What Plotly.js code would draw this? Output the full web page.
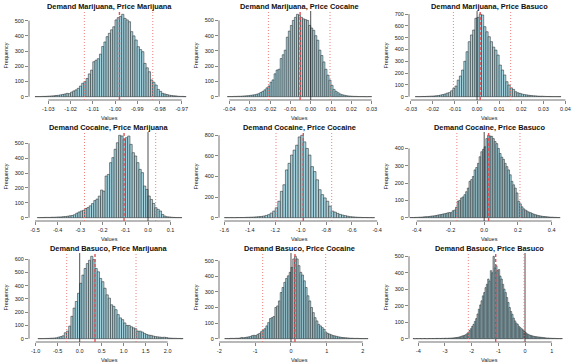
<!DOCTYPE html>
<html>
<head>
<meta charset="utf-8">
<script src="https://cdn.plot.ly/plotly-3.0.1.min.js"></script>
<style>
html, body { margin: 0; padding: 0; background: #fff; }
#chart { width: 571px; height: 364px; }
</style>
</head>
<body>
<div id="chart"></div>
<script>
// panel titles, row by row
var titles = [
  "Demand Marijuana, Price Marijuana", "Demand Marijuana, Price Cocaine", "Demand Marijuana, Price Basuco",
  "Demand Cocaine, Price Marijuana", "Demand Cocaine, Price Cocaine", "Demand Cocaine, Price Basuco",
  "Demand Basuco, Price Marijuana", "Demand Basuco, Price Cocaine", "Demand Basuco, Price Basuco"
];

// histogram bins: left edge of first bin, bin width, counts
var binStart = [-1.036, -0.041, -0.028, -0.49, -1.60, -0.44, -0.95, -1.85, -4.2];
var binWidth = [0.001, 0.001, 0.001, 0.01, 0.02, 0.01, 0.05, 0.05, 0.05];

var counts1 = [1,1,1,2,2,3,4,5,6,8, 9,12,15,18,22,20,30,38,45,55, 70,88,99,120,150,175,230,240,250,280,
  330,360,395,417,440,460,505,520,528,542, 515,505,493,428,400,373,329,310,296,219,
  190,164,110,95,77,48,35,22,18,14, 10,8,6,5,3,2,2,1];
var counts2 = [1,1,1,2,2,3,3,4,5,6, 7,9,11,13,16,20,28,35,45,58, 70,95,110,150,175,180,250,275,305,390,
  430,467,500,520,540,533,520,510,505,500, 467,450,435,400,370,305,270,228,180,141,
  109,75,48,35,26,18,13,10,7,5, 4,3,2,2,1,1,1,1,0,1,1];
var counts3 = [1,1,1,2,2,3,4,5,6,8, 10,14,18,23,30,35,50,70,90,140, 175,226,300,381,466,523,565,664,672,698,
  692,593,550,508,466,420,395,353,268,226, 184,127,99,75,62,42,33,28,22,18,
  15,12,10,8,7,5,4,4,3,2, 2,1,1,1,1,1];
var counts4 = [1,1,1,2,2,2,3,3,4,5, 5,7,8,10,13,15,20,30,38,45, 50,62,68,80,95,115,125,145,186,178,
  280,291,370,404,460,504,554,549,527,538, 549,493,437,415,370,325,303,213,190,146,
  123,96,67,56,45,22,11,6,5,3, 2,1,1,1];
var counts5 = [1,1,1,1,1,2,2,2,3,4, 5,6,8,10,12,16,22,30,45,64, 96,160,256,320,464,528,608,656,704,784,
  800,736,672,608,496,448,368,272,224,192, 160,112,64,54,42,32,25,20,14,10,
  8,6,4,3,2,2,1,1,1];
var counts6 = [1,1,1,2,2,3,3,4,5,6, 6,7,9,10,11,13,15,17,19,21, 23,25,28,30,29,40,44,60,95,100,
  114,120,133,150,171,210,220,238,276,290, 314,352,381,395,410,457,476,472,470,457,
  440,428,400,371,350,337,314,295,276,248, 210,190,171,143,95,80,63,51,44,38,
  32,29,24,20,17,14,12,10,8,7, 6,5,4,3,3,2,2,1,1];
var counts7 = [1,1,1,2,2,3,4,5,7,12, 16,22,45,57,95,169,231,281,343,418, 480,530,567,592,622,597,530,505,455,430,
  381,331,306,256,244,219,182,157,144,119, 100,100,90,82,75,57,57,50,40,32,
  27,25,20,16,14,12,10,11,9,5, 4,3,3,2,2,1];
var counts8 = [1,1,1,2,2,2,3,3,4,8, 6,8,10,12,15,20,22,20,28,34, 45,56,64,82,103,129,135,142,200,210,
  242,296,328,361,386,403,425,457,511,528, 511,468,425,408,371,328,275,242,200,167,
  135,114,92,82,71,60,43,34,30,25, 20,18,15,12,10,8,7,6,5,4,
  3,3,2,2,2,1,1,1,1,1];
var counts9 = [1,0,1,0,1,1,0,1,1,1, 0,1,1,1,1,1,1,2,1,2, 1,2,2,2,3,2,3,3,4,4,
  5,6,7,8,10,12,15,18,20,24, 30,38,50,61,75,87,105,122,150,179,
  205,230,260,280,310,331,362,350,413,400, 500,430,443,413,420,380,362,330,301,280,
  250,220,189,165,148,125,108,95,87,75, 67,60,53,45,37,30,26,22,20,17,
  15,13,12,11,10,9,8,7,6,5, 4,4,3,3,2,2,2,1,1,1, 1,1];

// 95% interval bounds and point estimate for each panel
var lowerCI = [-1.0138, -0.0208, -0.0107, -0.281, -1.194, -0.162, -0.295, -0.79, -2.126];
var estimate = [-0.998, -0.0052, 0.0014, -0.106, -0.98, 0.026, 0.348, 0.111, -1.099];
var upperCI = [-0.983, 0.0095, 0.0152, 0.034, -0.757, 0.212, 1.28, 0.968, -0.038];

// x tick values and labels
var xTicks = [
  [-1.03, -1.02, -1.01, -1.00, -0.99, -0.98, -0.97],
  [-0.04, -0.03, -0.02, -0.01, 0, 0.01, 0.02, 0.03],
  [-0.03, -0.02, -0.01, 0, 0.01, 0.02, 0.03, 0.04],
  [-0.5, -0.4, -0.3, -0.2, -0.1, 0, 0.1],
  [-1.6, -1.4, -1.2, -1.0, -0.8, -0.6, -0.4],
  [-0.4, -0.2, 0, 0.2, 0.4],
  [-1.0, -0.5, 0, 0.5, 1.0, 1.5, 2.0],
  [-2, -1, 0, 1, 2],
  [-4, -3, -2, -1, 0, 1]
];
var xLabels = [
  ["-1.03", "-1.02", "-1.01", "-1.00", "-0.99", "-0.98", "-0.97"],
  ["-0.04", "-0.03", "-0.02", "-0.01", "0.00", "0.01", "0.02", "0.03"],
  ["-0.03", "-0.02", "-0.01", "0.00", "0.01", "0.02", "0.03", "0.04"],
  ["-0.5", "-0.4", "-0.3", "-0.2", "-0.1", "0.0", "0.1"],
  ["-1.6", "-1.4", "-1.2", "-1.0", "-0.8", "-0.6", "-0.4"],
  ["-0.4", "-0.2", "0.0", "0.2", "0.4"],
  ["-1.0", "-0.5", "0.0", "0.5", "1.0", "1.5", "2.0"],
  ["-2", "-1", "0", "1", "2"],
  ["-4", "-3", "-2", "-1", "0", "1"]
];
var yTicks = [
  [0, 100, 200, 300, 400, 500],
  [0, 100, 200, 300, 400, 500],
  [0, 100, 200, 300, 400, 500, 600, 700],
  [0, 100, 200, 300, 400, 500],
  [0, 200, 400, 600, 800],
  [0, 100, 200, 300, 400],
  [0, 100, 200, 300, 400, 500, 600],
  [0, 100, 200, 300, 400, 500],
  [0, 100, 200, 300, 400, 500]
];

var allCounts = [counts1, counts2, counts3, counts4, counts5, counts6, counts7, counts8, counts9];

// plot regions (pixels) and x ranges
var W = 571, H = 364;
var colLeft = [29, 219, 409], rowTop = [11, 132, 253];
var plotW = 160, plotH = 89;
var xRanges = [
  [-1.0387, -0.9667], [-0.0451, 0.0336], [-0.0308, 0.0416],
  [-0.5266, 0.1814], [-1.6416, -0.3857], [-0.4456, 0.5025],
  [-1.152, 2.484], [-2.008, 2.455], [-4.349, 1.648]
];

var axisCol = '#333';
var tickFont = {size: 5.5, color: '#222'};
var data = [], shapes = [], annotations = [];
var layout = {
  width: W, height: H,
  margin: {l: 0, r: 0, t: 0, b: 0},
  showlegend: false,
  bargap: 0,
  paper_bgcolor: '#fff', plot_bgcolor: '#fff',
  font: {family: 'Liberation Sans, Arial, sans-serif', color: '#222'}
};

for (var i = 0; i < 9; i++) {
  var sfx = i === 0 ? '' : String(i + 1);
  var xa = 'x' + sfx, ya = 'y' + sfx;
  var c = allCounts[i];
  var centers = c.map(function (v, k) { return binStart[i] + (k + 0.5) * binWidth[i]; });
  data.push({
    type: 'bar', x: centers, y: c, width: binWidth[i],
    xaxis: xa, yaxis: ya,
    marker: {color: '#a3d4e0', line: {color: '#2b2b2b', width: 0.55}},
    hoverinfo: 'skip'
  });

  var col = i % 3, row = Math.floor(i / 3);
  var L = colLeft[col], T = rowTop[row];
  var M = Math.max.apply(null, c);

  layout['xaxis' + sfx] = {
    domain: [L / W, (L + plotW) / W], range: xRanges[i], anchor: ya,
    tickvals: xTicks[i], ticktext: xLabels[i],
    ticks: 'outside', ticklen: 3, tickwidth: 0.6, tickcolor: axisCol,
    showgrid: false, zeroline: false, showline: false, tickfont: tickFont
  };
  layout['yaxis' + sfx] = {
    domain: [1 - (T + plotH) / H, 1 - T / H], range: [-0.04 * M, 1.04 * M], anchor: xa,
    tickvals: yTicks[i],
    ticks: 'outside', ticklen: 3, tickwidth: 0.6, tickcolor: axisCol,
    showgrid: false, zeroline: false, showline: false, tickfont: tickFont
  };

  // R-style axis lines spanning the tick range only
  var xt = xTicks[i], yt = yTicks[i];
  shapes.push({type: 'line', xref: xa, yref: ya + ' domain', x0: xt[0], x1: xt[xt.length - 1], y0: 0, y1: 0,
    line: {color: axisCol, width: 0.7}});
  shapes.push({type: 'line', xref: xa + ' domain', yref: ya, x0: 0, x1: 0, y0: yt[0], y1: yt[yt.length - 1],
    line: {color: axisCol, width: 0.7}});

  // zero reference line
  if (xRanges[i][0] < 0 && xRanges[i][1] > 0) {
    shapes.push({type: 'line', xref: xa, yref: ya + ' domain', x0: 0, x1: 0, y0: 0, y1: 1,
      line: {color: '#222', width: 0.8}});
  }
  // interval bounds (dotted) and estimate (dashed)
  [lowerCI[i], upperCI[i]].forEach(function (v) {
    shapes.push({type: 'line', xref: xa, yref: ya + ' domain', x0: v, x1: v, y0: 0, y1: 1,
      line: {color: '#f07272', width: 0.9, dash: '1px,2px'}});
  });
  shapes.push({type: 'line', xref: xa, yref: ya + ' domain', x0: estimate[i], x1: estimate[i], y0: 0, y1: 1,
    line: {color: '#e05258', width: 1.4, dash: '3px,2px'}});

  // titles and axis labels
  annotations.push({text: '<b>' + titles[i] + '</b>', xref: xa + ' domain', yref: ya + ' domain',
    x: 0.5, y: 1, yshift: 5, xanchor: 'center', yanchor: 'middle', showarrow: false,
    font: {size: 7.4, color: '#111'}});
  annotations.push({text: 'Values', xref: xa + ' domain', yref: ya + ' domain',
    x: 0.5, y: 0, yshift: -17.5, xanchor: 'center', yanchor: 'middle', showarrow: false,
    font: {size: 5.5, color: '#222'}});
  annotations.push({text: 'Frequency', xref: xa + ' domain', yref: ya + ' domain',
    x: 0, y: 0.5, xshift: -24, xanchor: 'center', yanchor: 'middle', textangle: -90, showarrow: false,
    font: {size: 5.5, color: '#222'}});
}

layout.shapes = shapes;
layout.annotations = annotations;

Plotly.newPlot('chart', data, layout, {staticPlot: true, displayModeBar: false});
</script>
</body>
</html>
